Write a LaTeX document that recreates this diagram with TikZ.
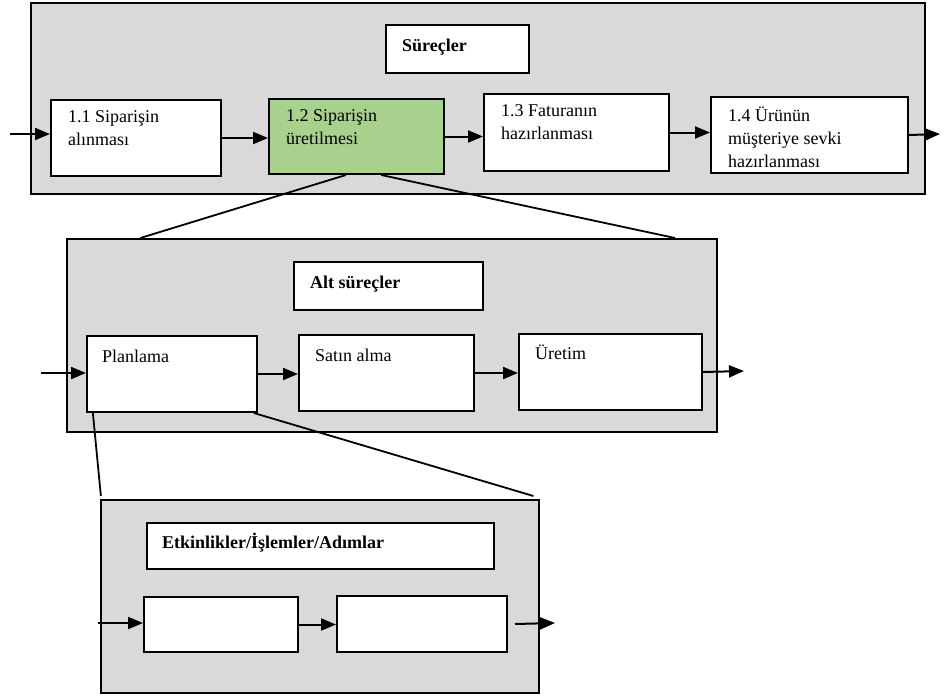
\documentclass[tikz,border=0pt]{standalone}
\usepackage{fontspec}
\setmainfont{Liberation Serif}
\usetikzlibrary{positioning,arrows.meta,calc}
\definecolor{panelgray}{HTML}{D9D9D9}
\definecolor{activegreen}{HTML}{A9D18E}
\newcommand{\diagfont}{\fontsize{18}{23}\selectfont}
\tikzset{%
  panel/.style={draw,line width=2pt,fill=panelgray,anchor=north west,inner sep=0pt},
  box/.style={draw,line width=2pt,fill=white,anchor=north west,inner sep=0pt},
  active/.style={fill=activegreen},
  lbl/.style={align=left,inner sep=0pt,execute at begin node=\strut},
  hd/.style={lbl,font=\diagfont\bfseries},
  flow/.style={-{Triangle[length=15pt,width=12pt]},line width=2pt},
  zoomline/.style={line width=1.8pt}
}

\begin{document}
\begin{tikzpicture}[x=1pt,y=-1pt,font=\diagfont]
  \useasboundingbox (0,0) rectangle (951,697);

  % level 1
  \node[panel,minimum width=894,minimum height=191] (p1) at (30,2) {};
  \node[box,minimum width=143,minimum height=48] (h1) at (385,24) {};
  \node[box,minimum width=170,minimum height=76] (b11) at (50,99) {};
  \node[box,active,minimum width=175,minimum height=75] (b12) at (268,98) {};
  \node[box,minimum width=185,minimum height=77] (b13) at (483,93) {};
  \node[box,minimum width=197,minimum height=76] (b14) at (710,96) {};

  \node[hd,below right=11pt and 17pt of h1.north west] {Süreçler};
  \node[lbl,below right=11pt and 18pt of b11.north west] {1.1 Siparişin\\alınması};
  \node[lbl,below right=11pt and 18pt of b12.north west] {1.2 Siparişin\\üretilmesi};
  \node[lbl,below right=11pt and 18pt of b13.north west] {1.3 Faturanın\\hazırlanması};
  \node[lbl,below right=11pt and 18pt of b14.north west] {1.4 Ürünün\\müşteriye sevki\\hazırlanması};

  % level 2
  \node[panel,minimum width=650,minimum height=193] (p2) at (66,238) {};
  \node[box,minimum width=189,minimum height=48] (h2) at (293,261) {};
  \node[box,minimum width=170,minimum height=76] (b21) at (86,335) {};
  \node[box,minimum width=175,minimum height=76] (b22) at (298,334) {};
  \node[box,minimum width=183,minimum height=76] (b23) at (518,333) {};

  \node[hd,below right=11pt and 17pt of h2.north west] {Alt süreçler};
  \node[lbl,below right=11pt and 16pt of b21.north west] {Planlama};
  \node[lbl,below right=11pt and 17pt of b22.north west] {Satın alma};
  \node[lbl,below right=10pt and 17pt of b23.north west] {Üretim};

  % level 3
  \node[panel,minimum width=438,minimum height=193] (p3) at (100,499) {};
  \node[box,minimum width=347,minimum height=46] (h3) at (146,522) {};
  \node[box,minimum width=154,minimum height=55] (b31) at (143,596) {};
  \node[box,minimum width=170,minimum height=56] (b32) at (336,595) {};

  \node[hd,below right=10pt and 16pt of h3.north west] {Etkinlikler/İşlemler/Adımlar};

  % flows
  \coordinate (in1) at (10,134);
  \coordinate (out1) at (940,134);
  \coordinate (in2) at (41,373);
  \coordinate (out2) at (744,371);
  \coordinate (in3) at (98,623);
  \coordinate (out3) at (555,623);

  \draw[flow] (in1) -- (in1 -| b11.west);
  \draw[flow] (b11.east) -- (b11.east -| b12.west);
  \draw[flow] (b12.east) -- (b12.east -| b13.west);
  \draw[flow] (b13.east) -- (b13.east -| b14.west);
  \draw[flow] (b14.east) -- (out1);

  \draw[flow] (in2) -- (in2 -| b21.west);
  \draw[flow] (b21.east) -- (b21.east -| b22.west);
  \draw[flow] (b22.east) -- (b22.east -| b23.west);
  \draw[flow] (b23.east) -- (out2);

  \draw[flow] (in3) -- (in3 -| b31.west);
  \draw[flow] (b31.east) -- (b31.east -| b32.west);
  \draw[flow] ([xshift=7pt]b32.east) -- (out3);

  % zoom lines
  \draw[zoomline] ($(b12.south west)!0.44!(b12.south east)$) -- ($(p2.north west)!0.114!(p2.north east)$);
  \draw[zoomline] ($(b12.south west)!0.64!(b12.south east)$) -- ($(p2.north west)!0.934!(p2.north east)$);
  \draw[zoomline] ($(b21.south west)!0.04!(b21.south east)$) -- ($(p3.north west)!0.002!(p3.north east)+(0,-3)$);
  \draw[zoomline] ($(b21.south west)!0.976!(b21.south east)$) -- ($(p3.north west)!0.985!(p3.north east)+(0,-3)$);
\end{tikzpicture}
\end{document}
